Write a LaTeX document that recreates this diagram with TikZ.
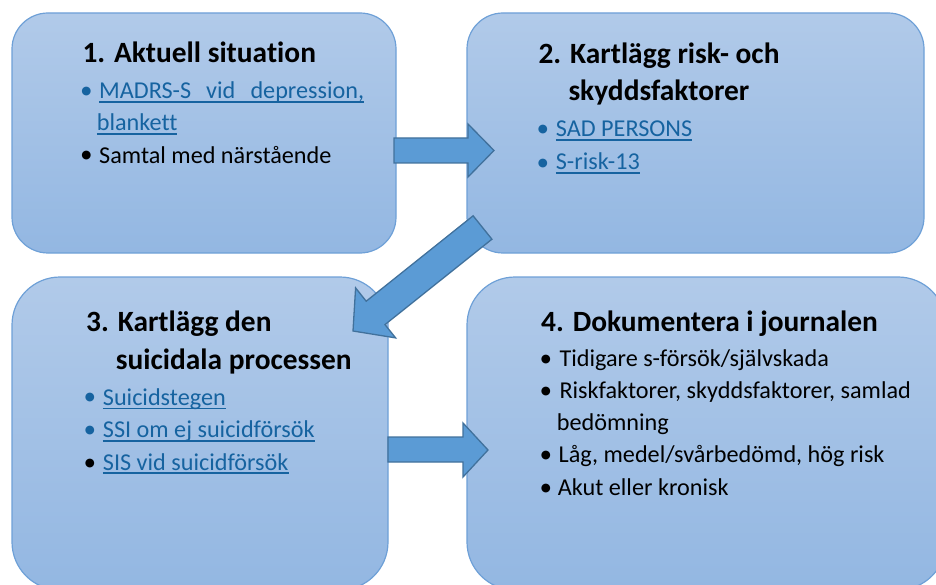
\documentclass[tikz,border=0pt]{standalone}
\usepackage{fontspec}
\setmainfont{Carlito}[Ligatures=NoCommon]
\newfontfamily\symf{DejaVu Sans}
\definecolor{boxtop}{RGB}{177,202,233}
\definecolor{boxbot}{RGB}{147,183,226}
\definecolor{boxline}{RGB}{110,160,215}
\definecolor{arrowfill}{RGB}{91,155,213}
\definecolor{arrowline}{RGB}{65,113,156}
\definecolor{linkc}{RGB}{22,99,160}
\newsavebox\lkbox
\newcommand\lk[1]{\sbox\lkbox{#1}\rlap{\rule[-4pt]{\wd\lkbox}{1.6pt}}\usebox\lkbox}
\tikzset{
  box/.style={draw=boxline, line width=1.2pt, top color=boxtop, bottom color=boxbot, inner sep=0pt},
  ttl/.style={anchor=base west, inner sep=0pt, font=\fontsize{29.4}{31}\selectfont\bfseries},
  txt/.style={anchor=base west, inner sep=0pt, font=\fontsize{24.2}{26}\selectfont},
  lnk/.style={txt, text=linkc},
  bul/.style={anchor=center, inner sep=0pt, font=\symf\fontsize{11.5}{11.5}\selectfont},
  bulb/.style={bul, text=linkc},
  arw/.style={fill=arrowfill, draw=arrowline, line width=1.3pt, line join=miter}
}
\begin{document}
\begin{tikzpicture}[x=1pt,y=-1pt]
\useasboundingbox (0,0) rectangle (936,585);
\clip (0,0) rectangle (936,585);
% boxes
\node[box, rounded corners=36pt, minimum width=384pt, minimum height=240pt] (b1) at (204,133) {};
\node[box, rounded corners=36pt, minimum width=457pt, minimum height=240pt] (b2) at (695.5,133) {};
\node[box, rounded corners=48pt, minimum width=376pt, minimum height=313pt] (b3) at (200,433.5) {};
\node[box, rounded corners=48pt, minimum width=479pt, minimum height=313pt] (b4) at (706.5,433.5) {};
% box 1
\node[ttl] (t1) at (82.3,62.7) {1. Aktuell situation};
\node[bulb] (u11) at (86.5,91.7) {●};
\node[lnk] (l11) at (99,98.7) {\lk{\hbox to 265pt{MADRS-S\hfill vid\hfill depression,}}};
\node[lnk] (l12) at (96.7,131) {\lk{blankett}};
\node[bul] (u12) at (86.5,155.7) {●};
\node[txt] (l13) at (99,163.3) {Samtal med närstående};
% box 2
\node[ttl] (t2a) at (538.3,63.3) {2. Kartlägg risk- och};
\node[ttl] (t2b) at (568.3,101) {skyddsfaktorer};
\node[bulb] (u21) at (543,130) {●};
\node[lnk] (l21) at (555.7,136.7) {\lk{SAD PERSONS}};
\node[bulb] (u22) at (543,163.3) {●};
\node[lnk] (l22) at (555.7,170) {\lk{S-risk-13}};
% box 3
\node[ttl] (t3a) at (86,331) {3. Kartlägg den};
\node[ttl] (t3b) at (115.7,369.3) {suicidala processen};
\node[bulb] (u31) at (90,397.7) {●};
\node[lnk] (l31) at (102.7,405.3) {\lk{Suicidstegen}};
\node[bulb] (u32) at (90,431) {●};
\node[lnk] (l32) at (102.7,437.7) {\lk{SSI om ej suicidförsök}};
\node[bul] (u33) at (90,463.3) {●};
\node[lnk] (l33) at (102.7,470) {\lk{SIS vid suicidförsök}};
% box 4
\node[ttl] (t4) at (541,331) {4. Dokumentera i journalen};
\node[bul] (u41) at (546,359.3) {●};
\node[txt] (l41) at (559.3,366) {Tidigare s-försök/självskada};
\node[bul] (u42) at (546,391.7) {●};
\node[txt] (l42) at (559.3,398.3) {Riskfaktorer, skyddsfaktorer, samlad};
\node[txt] (l43) at (556.7,430.7) {bedömning};
\node[bul] (u43) at (546,456) {●};
\node[txt] (l44) at (558.5,462.7) {Låg, medel/svårbedömd, hög risk};
\node[bul] (u44) at (546,489) {●};
\node[txt] (l45) at (557.7,495.7) {Akut eller kronisk};
% block arrows
\draw[arw] (394,138) -- (468,138) -- (468,124) -- (494,150.5) -- (468,177) -- (468,163) -- (394,163) -- cycle;
\draw[arw] (473.1,215.8) -- (366.2,301.2) -- (355.6,287.9) -- (353,331) -- (395.6,337.9) -- (385,324.6) -- (491.9,239.2) -- cycle;
\draw[arw] (388,437) -- (463,437) -- (463,423) -- (488,450) -- (463,477) -- (463,462) -- (388,462) -- cycle;
\end{tikzpicture}
\end{document}
